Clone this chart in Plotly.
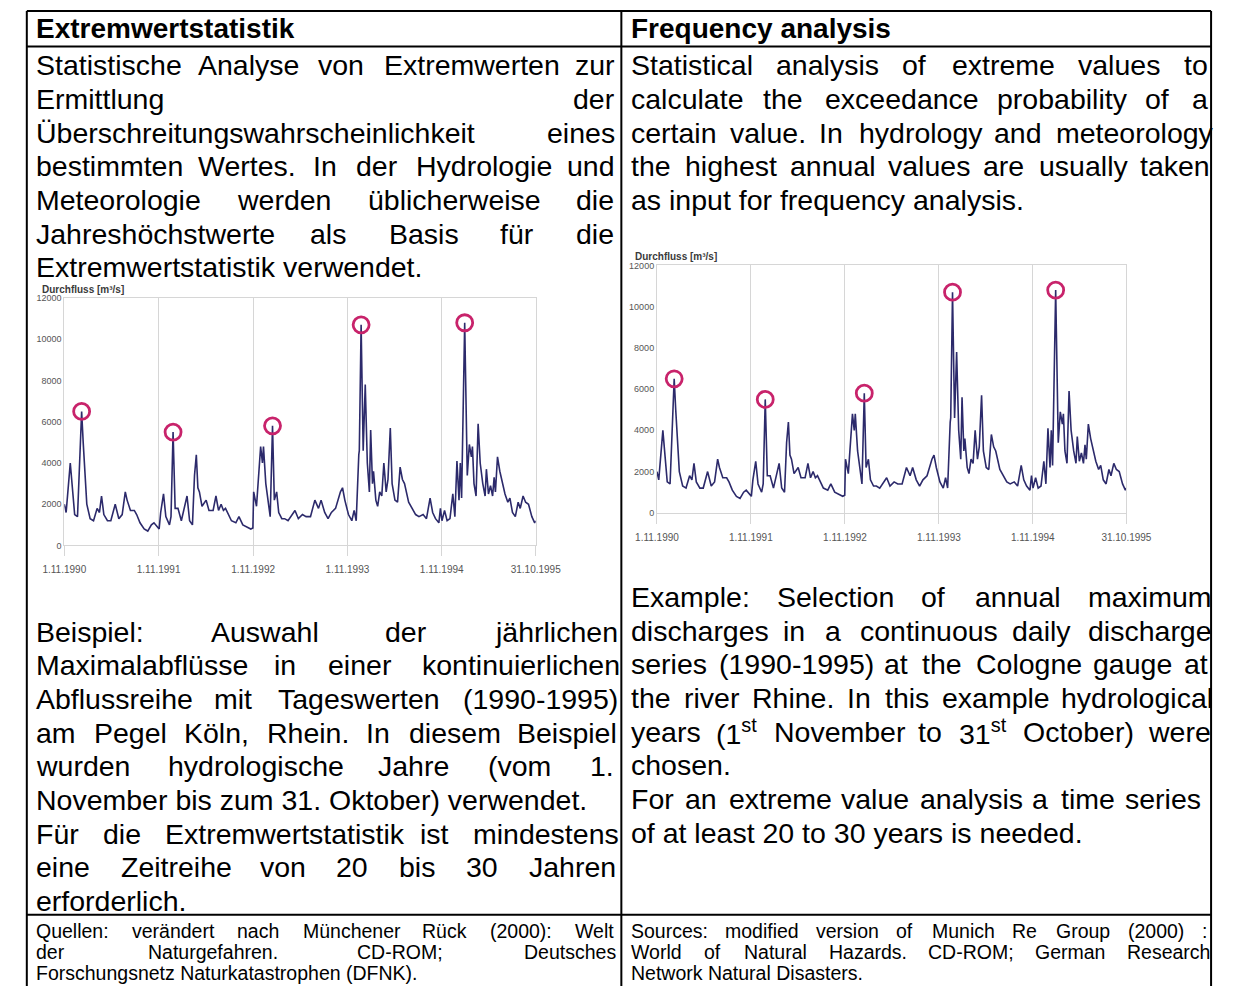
import plotly.graph_objects as go
import pandas as pd

# ---------------- data ----------------
# days since 1 Nov 1990 and daily discharge (m^3/s), Cologne gauge
days = [0, 7, 23, 40, 51, 67, 73, 87, 100, 113, 127, 136, 144, 153, 167, 180, 197, 211, 224, 236,
        243, 256, 271, 280, 293, 309, 323, 337, 347, 360, 367,
        373, 384, 393, 407, 413, 421, 429, 440, 453, 469, 475, 485, 496, 504, 511, 517, 523, 533,
        549, 560, 576, 587, 597, 607, 616, 624, 635, 647, 664, 676, 691, 709, 722, 730,
        733, 744, 753, 760, 767, 771, 780, 789, 797, 806, 813, 822, 830, 842, 853, 866, 877, 893,
        906, 922, 936, 953, 970, 984, 994, 1008, 1021, 1034, 1050, 1069, 1077, 1086, 1100, 1113,
        1122, 1130,
        1140, 1142, 1149, 1157, 1165, 1173, 1181, 1186, 1193, 1197, 1206, 1213, 1221, 1229, 1237,
        1246, 1253, 1262, 1269, 1280, 1290, 1300, 1309, 1317, 1333, 1346, 1360, 1373, 1389, 1402,
        1416, 1426, 1437, 1450, 1456, 1462,
        1472, 1482, 1493, 1504, 1512, 1520, 1528, 1533, 1538, 1550, 1560, 1568, 1576, 1580, 1586,
        1594, 1602, 1610, 1620, 1629, 1634, 1642, 1650, 1658, 1664, 1669, 1677, 1686, 1696, 1706,
        1717, 1725, 1735, 1746, 1757, 1765, 1776, 1786, 1797, 1810, 1821, 1825]
discharge = [2000, 1600, 4000, 1500, 1400, 6500, 5000, 2000, 1300, 1200, 1800, 1600, 2400, 1500, 1200,
             1200, 2000, 1300, 1500, 2600, 2200, 1700, 1700, 1500, 1100, 800, 700, 1000, 1100, 900, 800,
             1600, 2500, 1400, 1000, 1400, 5500, 1800, 1800, 1200, 2200, 2400, 1200, 1000, 3400, 4400,
             2800, 2600, 1900, 2200, 1700, 1700, 2400, 1700, 2000, 1700, 1800, 1500, 1200, 1100, 1400,
             1000, 900, 800, 850,
             2600, 1900, 3800, 4800, 4000, 4800, 3000, 2000, 1400, 5800, 2200, 2600, 1600, 1300, 1300,
             1200, 1400, 1700, 1300, 1500, 1400, 1400, 2200, 1800, 2200, 1600, 1300, 1600, 1800, 2600,
             2800, 2200, 1500, 1200, 1700, 1200,
             4400, 4600, 10700, 4600, 7800, 4000, 2600, 5600, 3000, 3600, 2200, 1900, 2600, 2400, 4000,
             2600, 3200, 5700, 3000, 2200, 2100, 3800, 3200, 3000, 2100, 1800, 1500, 1400, 1500, 1300,
             2300, 1600, 1300, 1100, 1800, 1200,
             1700, 1200, 1300, 2500, 1400, 4100, 2200, 4000, 2300, 10800, 3400, 4900, 4300, 4800, 3000,
             2400, 5900, 4000, 3000, 2400, 3700, 2500, 2900, 2400, 3300, 2600, 4300, 3600, 3000, 2500,
             2100, 2300, 1600, 1400, 2100, 1800, 2400, 2100, 2000, 1400, 1100, 1200]

year_ticks = ["1990-11-01", "1991-11-01", "1992-11-01", "1993-11-01", "1994-11-01", "1995-10-31"]
year_labels = ["1.11.1990", "1.11.1991", "1.11.1992", "1.11.1993", "1.11.1994", "31.10.1995"]
y_ticks = [0, 2000, 4000, 6000, 8000, 10000, 12000]
y_title = "Durchfluss [m³/s]"

header_left = "Extremwertstatistik"
header_right = "Frequency analysis"

left_par1 = ["Statistische Analyse von Extremwerten zur", "Ermittlung der",
             "Überschreitungswahrscheinlichkeit eines", "bestimmten Wertes. In der Hydrologie und",
             "Meteorologie werden üblicherweise die", "Jahreshöchstwerte als Basis für die",
             "Extremwertstatistik verwendet."]
left_par2 = ["Beispiel: Auswahl der jährlichen", "Maximalabflüsse in einer kontinuierlichen",
             "Abflussreihe mit Tageswerten (1990-1995)", "am Pegel Köln, Rhein. In diesem Beispiel",
             "wurden hydrologische Jahre (vom 1.", "November bis zum 31. Oktober) verwendet."]
left_par3 = ["Für die Extremwertstatistik ist mindestens", "eine Zeitreihe von 20 bis 30 Jahren",
             "erforderlich."]
right_par1 = ["Statistical analysis of extreme values to", "calculate the exceedance probability of a",
              "certain value. In hydrology and meteorology", "the highest annual values are usually taken",
              "as input for frequency analysis."]
right_par2 = ["Example: Selection of annual maximum", "discharges in a continuous daily discharge",
              "series (1990-1995) at the Cologne gauge at", "the river Rhine. In this example hydrological",
              "years (1<sup>st</sup> November to 31<sup>st</sup> October) were", "chosen."]
right_par3 = ["For an extreme value analysis a time series", "of at least 20 to 30 years is needed."]
left_src = ["Quellen: verändert nach Münchener Rück (2000): Welt", "der Naturgefahren. CD-ROM; Deutsches",
            "Forschungsnetz Naturkatastrophen (DFNK)."]
right_src = ["Sources: modified version of Munich Re Group (2000) :",
             "World of Natural Hazards. CD-ROM; German Research", "Network Natural Disasters."]

# ---------------- helpers ----------------
W, H = 1238, 991
FONT = "Arial, Liberation Sans, sans-serif"
BODY = 28.5
HEAD = 28
SRC = 19.5

AW = {' ': 278, '(': 333, ')': 333, ',': 278, '-': 333, '.': 278, ':': 278, ';': 278, '[': 278, ']': 278,
      '/': 278, '³': 333,
      'A': 667, 'B': 667, 'C': 722, 'D': 722, 'E': 667, 'F': 611, 'G': 778, 'H': 722, 'I': 278, 'J': 500,
      'K': 667, 'L': 556, 'M': 833, 'N': 722, 'O': 778, 'P': 667, 'Q': 778, 'R': 722, 'S': 667, 'T': 611,
      'U': 722, 'V': 667, 'W': 944, 'X': 667, 'Y': 667, 'Z': 611, 'Ü': 722, 'Ö': 778, 'Ä': 667,
      'a': 556, 'b': 556, 'c': 500, 'd': 556, 'e': 556, 'f': 278, 'g': 556, 'h': 556, 'i': 222, 'j': 222,
      'k': 500, 'l': 222, 'm': 833, 'n': 556, 'o': 556, 'p': 556, 'q': 556, 'r': 333, 's': 500, 't': 278,
      'u': 556, 'v': 500, 'w': 722, 'x': 500, 'y': 500, 'z': 500, 'ä': 556, 'ö': 556, 'ü': 556, 'ß': 611}


def str_w(s, size):
    return sum(AW.get(ch, 556) for ch in s) / 1000.0 * size


def word_w(word, size):
    total = 0.0
    parts = word.replace("</sup>", "<sup>").split("<sup>")
    for i, p in enumerate(parts):
        total += str_w(p, size * (0.7 if i % 2 == 1 else 1.0))
    return total


annotations = []


def put(text, px, py, size, bold=False, anchor="left", color="black"):
    annotations.append(dict(
        text=f"<b>{text}</b>" if bold else text, x=px / W, y=1 - py / H, xref="paper", yref="paper",
        xanchor=anchor, yanchor="middle", showarrow=False, borderpad=0,
        font=dict(family=FONT, size=size, color=color)))


def line_out(text, x0, x1, py, size, justify):
    words = text.split(" ")
    if not justify or len(words) == 1:
        put(text, x0, py, size)
        return
    widths = [word_w(w, size) for w in words]
    gap = (x1 - x0 - sum(widths)) / (len(words) - 1)
    x = x0
    for w, wd in zip(words, widths):
        put(w, x, py, size)
        x += wd + gap


def paragraph(lines, x0, x1, y0, step, size, last_right=None):
    for i, ln in enumerate(lines):
        just = i < len(lines) - 1
        xr = x1
        if i == len(lines) - 1 and last_right is not None:
            just, xr = True, last_right
        line_out(ln, x0, xr, y0 + i * step, size, just)


# ---------------- layout geometry ----------------
LX0, LX1 = 14, 613
RX0, RX1 = 632, 1231
STEP = 34

put(header_left, LX0, 24, HEAD, bold=True)
put(header_right, RX0, 24, HEAD, bold=True)

paragraph(left_par1, LX0, LX1, 61, STEP, BODY)
paragraph(right_par1, RX0, RX1, 61, STEP, BODY)

paragraph(right_par2, RX0, RX1, 598, STEP, BODY)
paragraph(right_par3[:1], RX0, RX1 - 9, 598 + 6 * STEP, STEP, BODY, last_right=RX1 - 9)
paragraph(right_par3[1:], RX0, RX1, 598 + 7 * STEP, STEP, BODY)
paragraph(left_par2, LX0, LX1, 633, STEP, BODY)
paragraph(left_par3, LX0, LX1, 633 + 6 * STEP, STEP, BODY)

paragraph(left_src, LX0, LX1, 935, 21.5, SRC)
paragraph(right_src, RX0, RX1, 935, 21.5, SRC)

# table borders
shapes = []


def hline(y, x0, x1, w=2):
    shapes.append(dict(type="line", xref="paper", yref="paper", x0=x0 / W, x1=x1 / W,
                       y0=1 - y / H, y1=1 - y / H, line=dict(color="black", width=w)))


def vline(x, y0, y1, w=2):
    shapes.append(dict(type="line", xref="paper", yref="paper", x0=x / W, x1=x / W,
                       y0=1 - y0 / H, y1=1 - y1 / H, line=dict(color="black", width=w)))


hline(6, 5, 1236)
hline(42, 5, 1236)
hline(919, 5, 1236)
vline(5, 6, 991)
vline(623, 6, 991)
vline(1236, 6, 991)

# ---------------- charts ----------------
dates = pd.Timestamp("1990-11-01") + pd.to_timedelta(days, unit="D")
series = pd.Series(discharge, index=dates)
peak_x, peak_y = [], []
bounds = [pd.Timestamp(t) for t in year_ticks]
bounds[-1] = bounds[-1] + pd.Timedelta(days=1)
for a, b in zip(bounds[:-1], bounds[1:]):
    seg = series[(series.index >= a) & (series.index < b)]
    peak_x.append(seg.idxmax())
    peak_y.append(seg.max())

fig = go.Figure()
charts = [  # (x-left px, x-right px, y-top px, y-bottom px)
    (44, 534, 296, 546),
    (660, 1148, 263, 513),
]
for i, (cx0, cx1, cy0, cy1) in enumerate(charts):
    sfx = "" if i == 0 else str(i + 1)
    fig.add_trace(go.Scatter(x=dates, y=discharge, mode="lines", line=dict(color="#2c2a6b", width=1.6),
                             xaxis="x" + sfx, yaxis="y" + sfx, showlegend=False, hoverinfo="skip"))
    fig.add_trace(go.Scatter(x=peak_x, y=peak_y, mode="markers",
                             marker=dict(symbol="circle-open", size=16, color="#c8236b",
                                         line=dict(width=2.8, color="#c8236b")),
                             xaxis="x" + sfx, yaxis="y" + sfx, showlegend=False, hoverinfo="skip"))
    fig.layout["xaxis" + sfx] = dict(
        domain=[cx0 / W, cx1 / W], anchor="y" + sfx, type="date",
        range=[year_ticks[0], year_ticks[-1]], tickmode="array", tickvals=year_ticks, ticktext=year_labels,
        showgrid=True, gridcolor="#d6d6d6", gridwidth=1, ticks="outside", ticklen=10, tickcolor="#d6d6d6",
        showline=True, mirror=True, linecolor="#d6d6d6", linewidth=1, zeroline=False,
        ticklabelstandoff=5,
        tickfont=dict(family=FONT, size=10, color="#555555"), tickangle=0)
    fig.layout["yaxis" + sfx] = dict(
        domain=[1 - cy1 / H, 1 - cy0 / H], anchor="x" + sfx, range=[0, 12000], tickmode="array",
        tickvals=y_ticks, ticktext=[str(v) for v in y_ticks], showgrid=False, zeroline=False,
        showline=True, mirror=True, linecolor="#d6d6d6", linewidth=1, ticks="",
        tickfont=dict(family=FONT, size=9, color="#555555"))
    put(f"<b>{y_title}</b>", cx0 - 24, cy0 - 9, 10, color="#3a3a3a")

fig.update_layout(width=W, height=H, margin=dict(l=0, r=0, t=0, b=0), paper_bgcolor="white",
                  plot_bgcolor="white", annotations=annotations, shapes=shapes, showlegend=False)

fig.write_html("out.html", config={"displayModeBar": False},
               post_script="document.body.style.margin='0';document.documentElement.style.overflow='hidden';")
